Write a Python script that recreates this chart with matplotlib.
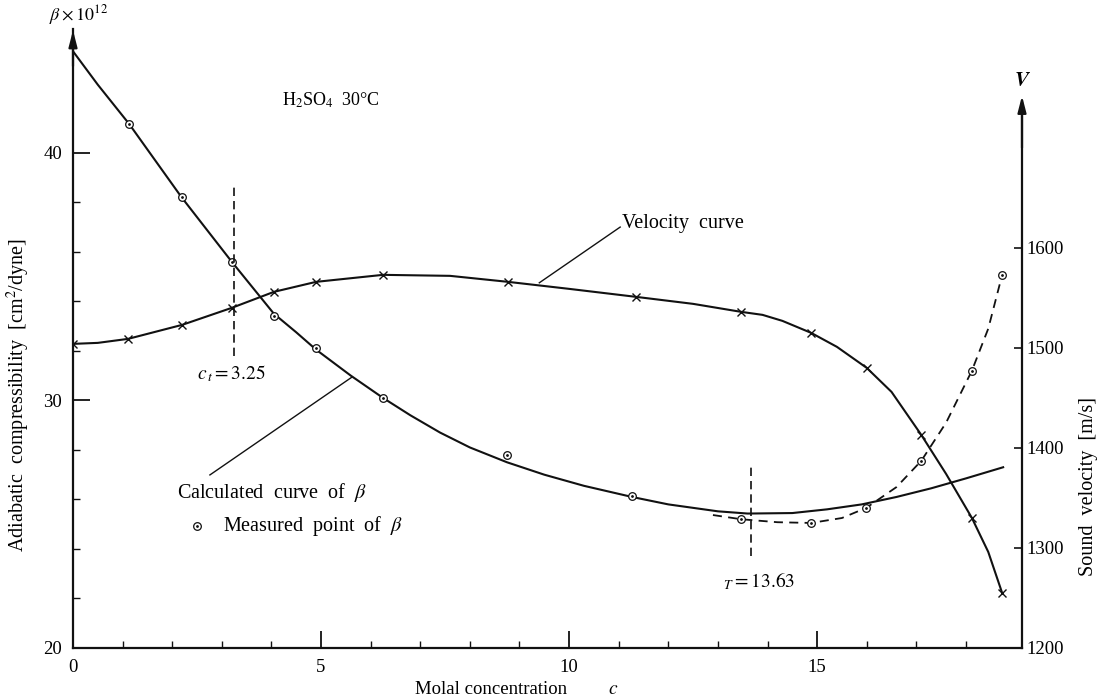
import numpy as np
import matplotlib.pyplot as plt

plt.rcParams['font.family'] = ['Liberation Serif', 'DejaVu Serif']
plt.rcParams['mathtext.fontset'] = 'stix'

# measured compressibility points (beta x 1e12)
c_meas = [1.13, 2.19, 3.2, 4.05, 4.9, 6.25, 8.75, 11.27, 13.47, 14.88, 15.99, 17.1, 18.12, 18.73]
beta_meas = [41.17, 38.2, 35.6, 33.4, 32.1, 30.1, 27.8, 26.15, 25.2, 25.05, 25.66, 27.56, 31.2, 35.07]

# calculated beta curve
c_calc = [0, 0.5, 1.13, 2.19, 3.2, 4.05, 4.5, 4.9, 5.6, 6.25, 6.8, 7.4, 8.0, 8.75, 9.5, 10.3,
          11.27, 12, 13, 13.6, 14.5, 15.2, 15.9, 16.6, 17.3, 18, 18.75]
beta_calc = [44.1, 42.75, 41.17, 38.2, 35.6, 33.5, 32.75, 32.05, 31.0, 30.1, 29.4, 28.7, 28.1,
             27.5, 27.0, 26.55, 26.1, 25.8, 25.52, 25.43, 25.45, 25.6, 25.8, 26.1, 26.45, 26.85, 27.3]

# dashed curve through the measured points at high concentration
c_dash = [12.9, 13.47, 14.2, 14.88, 15.5, 15.99, 16.6, 17.1, 17.6, 18.12, 18.45, 18.73]
beta_dash = [25.37, 25.2, 25.08, 25.05, 25.25, 25.66, 26.5, 27.56, 29.1, 31.2, 32.9, 35.07]

# sound velocity points (x marks) and curve
c_vel = [0, 1.11, 2.2, 3.2, 4.05, 4.9, 6.25, 8.77, 11.35, 13.47, 14.88, 16.0, 17.1, 18.12, 18.73]
v_vel = [1504, 1509, 1523, 1540, 1556, 1566, 1573, 1566, 1551, 1536, 1515, 1480, 1413, 1330, 1255]
c_vcurve = [0, 0.5, 1.11, 2.2, 3.2, 4.05, 4.9, 6.25, 7.6, 8.77, 10, 11.35, 12.5, 13.47, 13.9,
            14.3, 14.88, 15.4, 16.0, 16.5, 17.1, 17.6, 18.12, 18.45, 18.73]
v_vcurve = [1504, 1505, 1509, 1523, 1540, 1556, 1566, 1573, 1572, 1566, 1559, 1551, 1544, 1536,
            1533, 1527, 1515, 1501, 1480, 1456, 1413, 1374, 1330, 1296, 1255]

ink = '#111111'
fs = 14.5

fig = plt.figure(figsize=(11.03, 7.0), dpi=100)
ax = fig.add_axes([73 / 1103, 52 / 700, 949 / 1103, 619 / 700])
ax.set_xlim(0, 19.13)
ax.set_ylim(20, 45)

ax2 = ax.twinx()
ax2.set_ylim(1200, 1200 + 25 * 24.75)

# curves
ax.plot(c_calc, beta_calc, color=ink, lw=1.5)
ax.plot(c_dash, beta_dash, color=ink, lw=1.3, ls=(0, (5, 3.5)))
ax.plot(c_meas, beta_meas, 'o', ms=5.5, mfc='white', mec=ink, mew=0.9)
ax.plot(c_meas, beta_meas, '.', ms=2, color=ink)
ax2.plot(c_vcurve, v_vcurve, color=ink, lw=1.5)
ax2.plot(c_vel, v_vel, 'x', ms=5.5, mew=1.0, color=ink)

# transition markers
ax.plot([3.25, 3.25], [31.8, 38.6], color=ink, lw=1.2, ls=(0, (5, 3)))
ax.plot([13.67, 13.67], [23.7, 27.35], color=ink, lw=1.2, ls=(0, (5, 3)))
ax.text(2.5, 31.1, r'$c_{\,t}=3.25$', fontsize=14, va='center', ha='left')
ax.text(13.1, 22.7, r'${}_{T}=13.63$', fontsize=14, va='center', ha='left')

# annotations
ax.text(4.21, 42.14, r'H$_2$SO$_4$  30°C', fontsize=13, va='center', ha='left')
ax.plot([9.4, 11.03], [34.75, 37.0], color=ink, lw=1.0)
ax.text(11.07, 37.15, 'Velocity  curve', fontsize=fs, va='center', ha='left')
ax.plot([2.76, 5.63], [26.99, 30.95], color=ink, lw=1.0)
ax.text(2.1, 26.3, r'Calculated  curve  of  $\beta$', fontsize=fs, va='center', ha='left')
ax.plot([2.5], [24.93], 'o', ms=5.5, mfc='white', mec=ink, mew=0.9)
ax.plot([2.5], [24.93], '.', ms=2, color=ink)
ax.text(3.02, 24.93, r'Measured  point  of  $\beta$', fontsize=fs, va='center', ha='left')

# axes styling
for a in (ax, ax2):
    a.spines['top'].set_visible(False)
ax.spines['right'].set_visible(False)
ax2.spines['left'].set_visible(False)
ax2.spines['bottom'].set_visible(False)
ax2.spines['right'].set_bounds(1200, 1745)
for s in ('left', 'bottom'):
    ax.spines[s].set_linewidth(1.6)
    ax.spines[s].set_color(ink)
ax2.spines['right'].set_linewidth(1.6)
ax2.spines['right'].set_color(ink)

ax.set_xticks([0, 5, 10, 15])
ax.set_xticks(np.arange(0, 19, 1), minor=True)
ax.set_yticks([20, 30, 40])
ax.set_yticks(np.arange(20, 40, 2), minor=True)
ax2.set_yticks([1200, 1300, 1400, 1500, 1600])
ax.tick_params(axis='both', which='major', direction='in', length=12, width=1.3,
               labelsize=13.5, color=ink)
ax.tick_params(axis='both', which='minor', direction='in', length=5, width=1.0, color=ink)
ax.tick_params(axis='x', which='major', pad=8)
ax.tick_params(axis='y', which='major', pad=8)
ax2.tick_params(axis='y', direction='in', length=6, width=1.2, labelsize=13.5, pad=3, color=ink)

# axis arrows
arrow = dict(arrowstyle='-|>,head_length=0.7,head_width=0.18', color=ink, lw=1.6,
             mutation_scale=14, shrinkA=0, shrinkB=0)
ax.annotate('', xy=(0, 44.95), xytext=(0, 43.5), arrowprops=arrow, annotation_clip=False)
ax2.annotate('', xy=(19.13, 1752), xytext=(19.13, 1700), arrowprops=arrow,
             annotation_clip=False)

# axis labels
fig.text(79 / 1103, 1 - 15 / 700, r'$\beta \times 10^{12}$', fontsize=13, ha='center', va='center')
fig.text(1022 / 1103, 1 - 82 / 700, r'$\boldsymbol{V}$', fontsize=15, ha='center', va='center')
fig.text(18 / 1103, 1 - 395 / 700, 'Adiabatic  compressibility  [cm$^2$/dyne]',
         fontsize=fs, rotation=90, ha='center', va='center')
fig.text(1088 / 1103, 1 - 487 / 700, 'Sound  velocity  [m/s]',
         fontsize=fs, rotation=90, ha='center', va='center')
fig.text(415 / 1103, 1 - 690 / 700, 'Molal concentration', fontsize=13.5,
         ha='left', va='center')
fig.text(613 / 1103, 1 - 690 / 700, r'$c$', fontsize=14, ha='center', va='center')

fig.savefig('out.png', dpi=100)
